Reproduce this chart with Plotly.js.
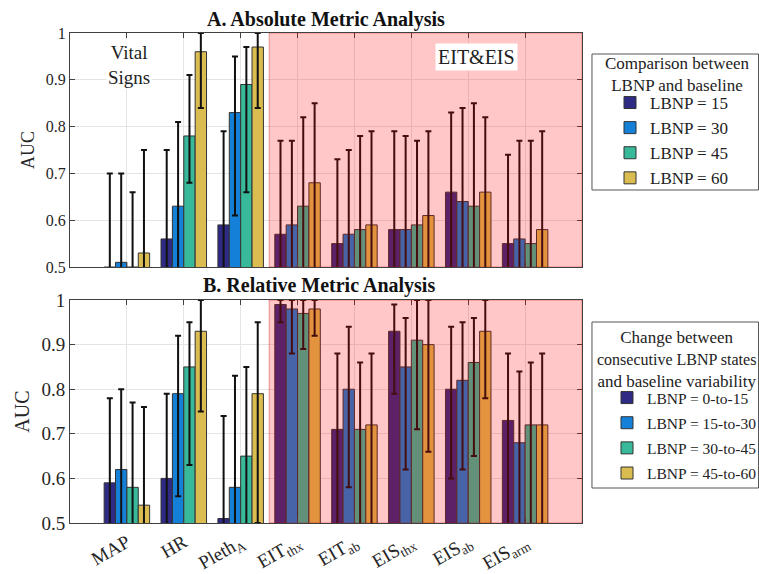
<!DOCTYPE html>
<html>
<head>
<meta charset="utf-8">
<script src="https://cdn.plot.ly/plotly-3.0.1.min.js"></script>
<style>html,body{margin:0;padding:0;background:#fff;}#chart{width:759px;height:574px;}</style>
</head>
<body>
<div id="chart"></div>
<script>
// Categories (x tick labels)
const categories = ['MAP','HR','Pleth<sub>A</sub>','EIT<sub>thx</sub>','EIT<sub>ab</sub>','EIS<sub>thx</sub>','EIS<sub>ab</sub>','EIS<sub>arm</sub>'];

// Panel A: absolute metric analysis (AUC, upper and lower error limits)
const absNames = ['LBNP = 15','LBNP = 30','LBNP = 45','LBNP = 60'];
const absVal15 = [0.50,0.56,0.59,0.57,0.55,0.58,0.66,0.55];
const absHi15  = [0.70,0.75,0.79,0.77,0.73,0.79,0.83,0.74];
const absLo15  = [0.30,0.37,0.39,0.37,0.37,0.37,0.49,0.36];
const absVal30 = [0.51,0.63,0.83,0.59,0.57,0.58,0.64,0.56];
const absHi30  = [0.70,0.81,0.95,0.77,0.75,0.78,0.84,0.77];
const absLo30  = [0.32,0.45,0.61,0.41,0.39,0.38,0.44,0.35];
const absVal45 = [0.50,0.78,0.89,0.63,0.58,0.59,0.63,0.55];
const absHi45  = [0.66,0.91,0.97,0.82,0.78,0.77,0.85,0.77];
const absLo45  = [0.34,0.68,0.66,0.44,0.38,0.41,0.41,0.33];
const absVal60 = [0.53,0.96,0.97,0.68,0.59,0.61,0.66,0.58];
const absHi60  = [0.75,1.00,1.00,0.85,0.79,0.79,0.82,0.79];
const absLo60  = [0.31,0.84,0.84,0.45,0.39,0.43,0.48,0.37];

// Panel B: relative metric analysis
const relNames = ['LBNP = 0-to-15','LBNP = 15-to-30','LBNP = 30-to-45','LBNP = 45-to-60'];
const relVal1 = [0.59,0.60,0.51,0.99,0.71,0.93,0.80,0.73];
const relHi1  = [0.78,0.79,0.74,1.00,0.88,0.99,0.94,0.88];
const relLo1  = [0.40,0.41,0.28,0.95,0.45,0.79,0.60,0.45];
const relVal2 = [0.62,0.79,0.58,0.98,0.80,0.85,0.82,0.68];
const relHi2  = [0.80,0.92,0.83,1.00,0.94,0.96,0.95,0.84];
const relLo2  = [0.44,0.56,0.33,0.88,0.58,0.62,0.62,0.45];
const relVal3 = [0.58,0.85,0.65,0.97,0.71,0.91,0.86,0.72];
const relHi3  = [0.77,0.95,0.85,1.00,0.86,1.00,0.96,0.86];
const relLo3  = [0.39,0.63,0.45,0.89,0.45,0.71,0.65,0.45];
const relVal4 = [0.54,0.93,0.79,0.98,0.72,0.90,0.93,0.72];
const relHi4  = [0.76,1.00,0.95,1.00,0.88,1.00,1.00,0.88];
const relLo4  = [0.32,0.75,0.50,0.92,0.45,0.66,0.78,0.45];

const legendTitleA = 'Comparison between<br>LBNP and baseline';
const legendTitleB = 'Change between<br><span style="font-size:16px">consecutive LBNP states</span><br>and baseline variability';

const colors = ['#2f2b85','#1580d8','#38b99a','#dbbc50'];
const FONT = 'Liberation Serif';

function mk(vals, hi, lo, name, color, xa, ya, leg, grp) {
  return {
    type: 'bar', x: categories, y: vals, name: name, xaxis: xa, yaxis: ya, legend: leg, legendgroup: grp,
    marker: {color: color, line: {color: '#333', width: 1}},
    error_y: {type: 'data', symmetric: false,
      array: vals.map((v, i) => hi[i] - v),
      arrayminus: vals.map((v, i) => v - lo[i]),
      color: '#111', thickness: 2, width: 3},
    hoverinfo: 'skip'
  };
}

const absSets = [[absVal15,absHi15,absLo15],[absVal30,absHi30,absLo30],[absVal45,absHi45,absLo45],[absVal60,absHi60,absLo60]];
const relSets = [[relVal1,relHi1,relLo1],[relVal2,relHi2,relLo2],[relVal3,relHi3,relLo3],[relVal4,relHi4,relLo4]];
const data = [];
absSets.forEach((s, k) => data.push(mk(s[0], s[1], s[2], absNames[k], colors[k], 'x', 'y', 'legend', 'a' + k)));
relSets.forEach((s, k) => data.push(mk(s[0], s[1], s[2], relNames[k], colors[k], 'x2', 'y2', 'legend2', 'b' + k)));

const axCommon = {
  type: 'category', range: [-1, 8], showgrid: true, gridcolor: '#e4e4e4', gridwidth: 1,
  showline: true, linecolor: '#404040', linewidth: 1, mirror: 'ticks',
  ticks: 'inside', ticklen: 5, tickcolor: '#404040', zeroline: false, fixedrange: true
};
const yCommon = {
  range: [0.5, 1], tickvals: [0.5,0.6,0.7,0.8,0.9,1], ticktext: ['0.5','0.6','0.7','0.8','0.9','1'],
  showgrid: true, gridcolor: '#e4e4e4', gridwidth: 1,
  showline: true, linecolor: '#404040', linewidth: 1, mirror: 'ticks',
  ticks: 'inside', ticklen: 5, tickcolor: '#404040', zeroline: false, fixedrange: true
};

const legFont = {size: 17, family: FONT, color: '#222'};
const legFont2 = {size: 15.5, family: FONT, color: '#222'};
const layout = {
  width: 759, height: 574,
  margin: {l: 70, r: 177, t: 33, b: 51, autoexpand: false},
  paper_bgcolor: '#fff', plot_bgcolor: '#fff',
  font: {family: FONT, color: '#222'},
  barmode: 'group', bargap: 0.2, bargroupgap: 0,
  showlegend: true,
  xaxis: Object.assign({}, axCommon, {anchor: 'y', showticklabels: false}),
  yaxis: Object.assign({}, yCommon, {anchor: 'x', domain: [0.5224, 1],
    tickfont: {size: 16, family: FONT, color: '#262626'},
    title: {text: 'AUC', font: {size: 18, family: FONT, color: '#262626'}, standoff: 6}}),
  xaxis2: Object.assign({}, axCommon, {anchor: 'y2', tickangle: -30,
    tickfont: {size: 19, family: FONT, color: '#262626'}}),
  yaxis2: Object.assign({}, yCommon, {anchor: 'x2', domain: [0, 0.455],
    tickfont: {size: 19, family: FONT, color: '#262626'},
    title: {text: 'AUC', font: {size: 20, family: FONT, color: '#262626'}, standoff: 6}}),
  legend: {x: 1.0547, xanchor: 'left', y: 0.8939, yanchor: 'top', tracegroupgap: 0,
    bgcolor: 'rgba(0,0,0,0)', borderwidth: 0, font: legFont},
  legend2: {x: 1.0488, xanchor: 'left', y: 0.2898, yanchor: 'top', tracegroupgap: 2,
    bgcolor: 'rgba(0,0,0,0)', borderwidth: 0, font: legFont2},
  shapes: [
    {type: 'rect', xref: 'x', yref: 'y', x0: 2.5, x1: 8, y0: 0.5, y1: 1, layer: 'above',
      fillcolor: 'rgba(255,0,0,0.22)', line: {color: 'rgba(200,0,0,0.35)', width: 1}},
    {type: 'rect', xref: 'x2', yref: 'y2', x0: 2.5, x1: 8, y0: 0.5, y1: 1, layer: 'above',
      fillcolor: 'rgba(255,0,0,0.22)', line: {color: 'rgba(200,0,0,0.35)', width: 1}},
    {type: 'rect', xref: 'paper', yref: 'paper', x0: 1.0195, x1: 1.3447, y0: 0.6796, y1: 0.9571, layer: 'below',
      fillcolor: '#fff', line: {color: '#555', width: 1}},
    {type: 'rect', xref: 'paper', yref: 'paper', x0: 1.0195, x1: 1.3447, y0: 0.0714, y1: 0.4102, layer: 'below',
      fillcolor: '#fff', line: {color: '#555', width: 1}}
  ],
  annotations: [
    {text: '<b>A. Absolute Metric Analysis</b>', xref: 'paper', yref: 'paper', x: 0.5, y: 1.0, yshift: 14,
      xanchor: 'center', yanchor: 'middle', showarrow: false, font: {size: 20, family: FONT, color: '#111'}},
    {text: '<b>B. Relative Metric Analysis</b>', xref: 'paper', yref: 'paper', x: 0.487, y: 0.455, yshift: 15,
      xanchor: 'center', yanchor: 'middle', showarrow: false, font: {size: 20, family: FONT, color: '#111'}},
    {text: 'Vital<br>Signs', xref: 'x', yref: 'y', x: 0.03, y: 0.932, showarrow: false,
      bgcolor: '#fff', font: {size: 19, family: FONT, color: '#222'}, align: 'center'},
    {text: 'EIT&amp;EIS', xref: 'x', yref: 'y', x: 6.14, y: 0.949, showarrow: false,
      bgcolor: '#fff', borderpad: 2, font: {size: 20, family: FONT, color: '#222'}},
    {text: legendTitleA, xref: 'paper', yref: 'paper', x: 1.1855, y: 0.9143, showarrow: false,
      xanchor: 'center', yanchor: 'middle', align: 'center', font: legFont},
    {text: legendTitleB, xref: 'paper', yref: 'paper', x: 1.1855, y: 0.3327, showarrow: false,
      xanchor: 'center', yanchor: 'middle', align: 'center', font: legFont}
  ]
};

Plotly.newPlot('chart', data, layout, {staticPlot: true, displayModeBar: false});
</script>
</body>
</html>
